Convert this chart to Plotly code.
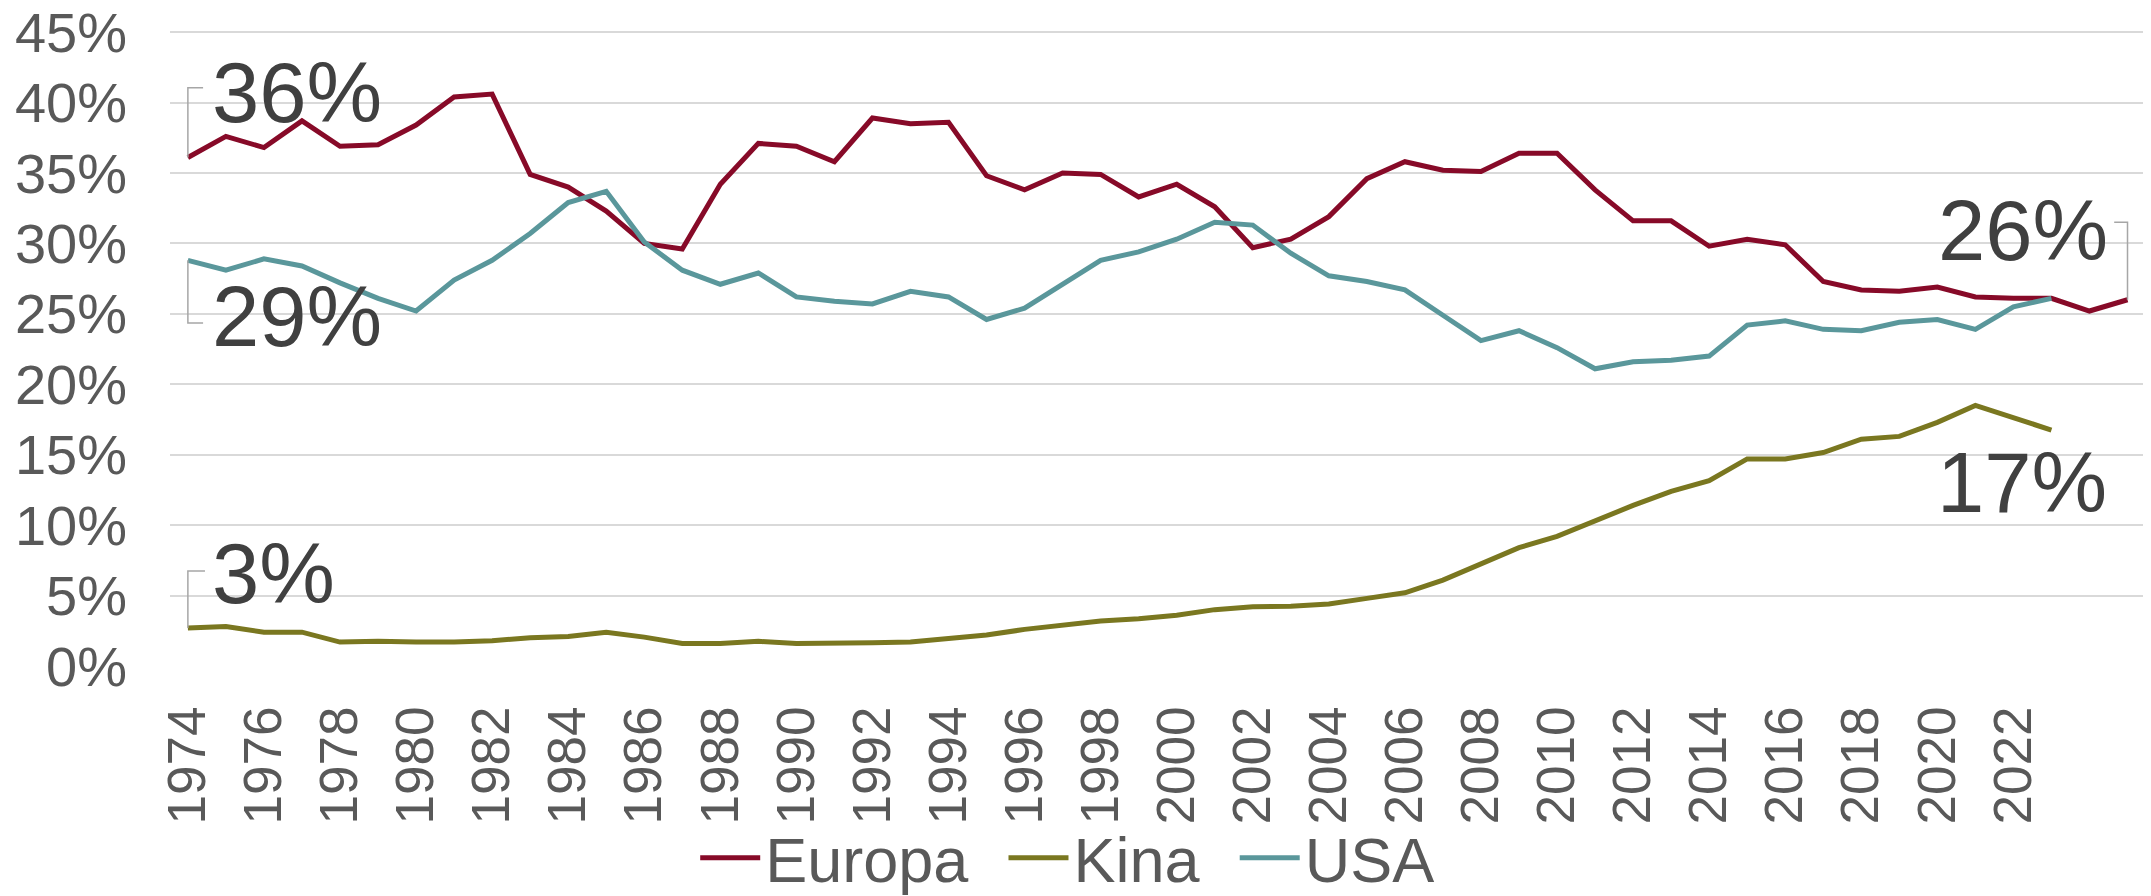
import plotly.graph_objects as go

years = list(range(1974, 2026))
europa = [36.1, 37.6, 36.8, 38.7, 36.9, 37.0, 38.4, 40.4, 40.6, 34.9,
          34.0, 32.3, 30.0, 29.6, 34.2, 37.1, 36.9, 35.8, 38.9, 38.5,
          38.6, 34.8, 33.8, 35.0, 34.9, 33.3, 34.2, 32.6, 29.7, 30.3,
          31.9, 34.6, 35.8, 35.2, 35.1, 36.4, 36.4, 33.8, 31.6, 31.6,
          29.8, 30.3, 29.9, 27.3, 26.7, 26.6, 26.9, 26.2, 26.1, 26.1,
          25.2, 26.0]
kina = [2.7, 2.8, 2.4, 2.4, 1.7, 1.75, 1.7, 1.7, 1.8, 2.0,
        2.1, 2.4, 2.05, 1.6, 1.6, 1.75, 1.6, 1.6, 1.65, 1.7,
        1.95, 2.2, 2.6, 2.9, 3.2, 3.35, 3.6, 4.0, 4.2, 4.25,
        4.4, 4.8, 5.2, 6.1, 7.25, 8.4, 9.2, 10.3, 11.4, 12.4,
        13.15, 14.7, 14.7, 15.15, 16.1, 16.3, 17.3, 18.5, 17.6, 16.75]
usa = [28.8, 28.1, 28.9, 28.4, 27.2, 26.1, 25.2, 27.4, 28.8, 30.7,
       32.9, 33.7, 30.1, 28.1, 27.1, 27.9, 26.2, 25.9, 25.7, 26.6,
       26.2, 24.6, 25.4, 27.1, 28.8, 29.4, 30.3, 31.5, 31.3, 29.3,
       27.7, 27.3, 26.7, 24.9, 23.1, 23.8, 22.6, 21.1, 21.6, 21.7,
       22.0, 24.2, 24.5, 23.9, 23.8, 24.4, 24.6, 23.9, 25.5, 26.1]
tick_years = list(range(1974, 2023, 2))
tick_labels = [str(y) for y in tick_years]
y_ticks = list(range(0, 46, 5))
y_labels = [f"{v}%" for v in y_ticks]

C_EU = "#870A28"
C_KI = "#7A7720"
C_US = "#5A979B"
FONT = "Liberation Sans, Arial, sans-serif"
PAD = "\u00a0\u2009"

fig = go.Figure()
fig.add_trace(go.Scatter(x=years[:len(europa)], y=europa, name="Europa" + PAD, mode="lines",
                         line=dict(color=C_EU, width=5)))
fig.add_trace(go.Scatter(x=years[:len(kina)], y=kina, name="Kina" + PAD, mode="lines",
                         line=dict(color=C_KI, width=5)))
fig.add_trace(go.Scatter(x=years[:len(usa)], y=usa, name="USA", mode="lines",
                         line=dict(color=C_US, width=5)))

# end labels
def label(text, x, y, anchor, shift):
    fig.add_annotation(x=x, y=y, xref="x", yref="y", text=text, showarrow=False,
                       xanchor=anchor, yanchor="middle", xshift=shift,
                       font=dict(family=FONT, size=85, color="#404040"))

first, last_eu, last_ki = years[0], years[len(europa) - 1], years[len(kina) - 1]
label("36%", first, europa[0] + 4.6, "left", 22)
label("29%", first, usa[0] - 4.0, "left", 22)
label("3%", first, kina[0] + 3.9, "left", 22)
label("26%", last_eu, europa[-1] + 4.9, "right", -18)
label("17%", last_ki, kina[-1] - 3.7, "right", 58)

# leader brackets
def bracket(x0, y0, y1, dx):
    fig.add_shape(type="path", xref="x", yref="y",
                  path=f"M {x0},{y0} L {x0},{y1} L {x0 + dx},{y1}",
                  line=dict(color="#A6A6A6", width=1.5))

bracket(first, europa[0], europa[0] + 4.95, 0.4)
bracket(first, usa[0], usa[0] - 4.45, 0.4)
bracket(first, kina[0], kina[0] + 4.05, 0.45)
bracket(last_eu, europa[-1], europa[-1] + 5.5, -0.35)

fig.update_layout(
    width=2143, height=888,
    margin=dict(l=162, r=6, t=22, b=230, autoexpand=False),
    plot_bgcolor="white", paper_bgcolor="white",
    font=dict(family=FONT, color="#595959"),
    showlegend=True,
    legend=dict(orientation="h", xref="container", x=0.4945, xanchor="center",
                yref="container", y=0.043, yanchor="middle",
                font=dict(family=FONT, size=63, color="#595959"),
                itemwidth=60, tracegroupgap=0, bgcolor="rgba(0,0,0,0)"),
    xaxis=dict(range=[1973.53, 2025.46], tickmode="array", tickvals=tick_years,
               ticktext=tick_labels, tickangle=-90, showgrid=False, zeroline=False,
               showline=False, ticks="", ticklabelstandoff=29,
               ticklabeloverflow="allow",
               tickfont=dict(family=FONT, size=53, color="#595959")),
    yaxis=dict(range=[0, 45.15], tickmode="array", tickvals=y_ticks, ticktext=y_labels,
               showgrid=True, gridcolor="#D9D9D9", gridwidth=1.5, zeroline=False,
               showline=False, ticks="", ticklabelstandoff=42,
               ticklabeloverflow="allow",
               tickfont=dict(family=FONT, size=56, color="#595959")),
)

fig.write_html("out.html")
